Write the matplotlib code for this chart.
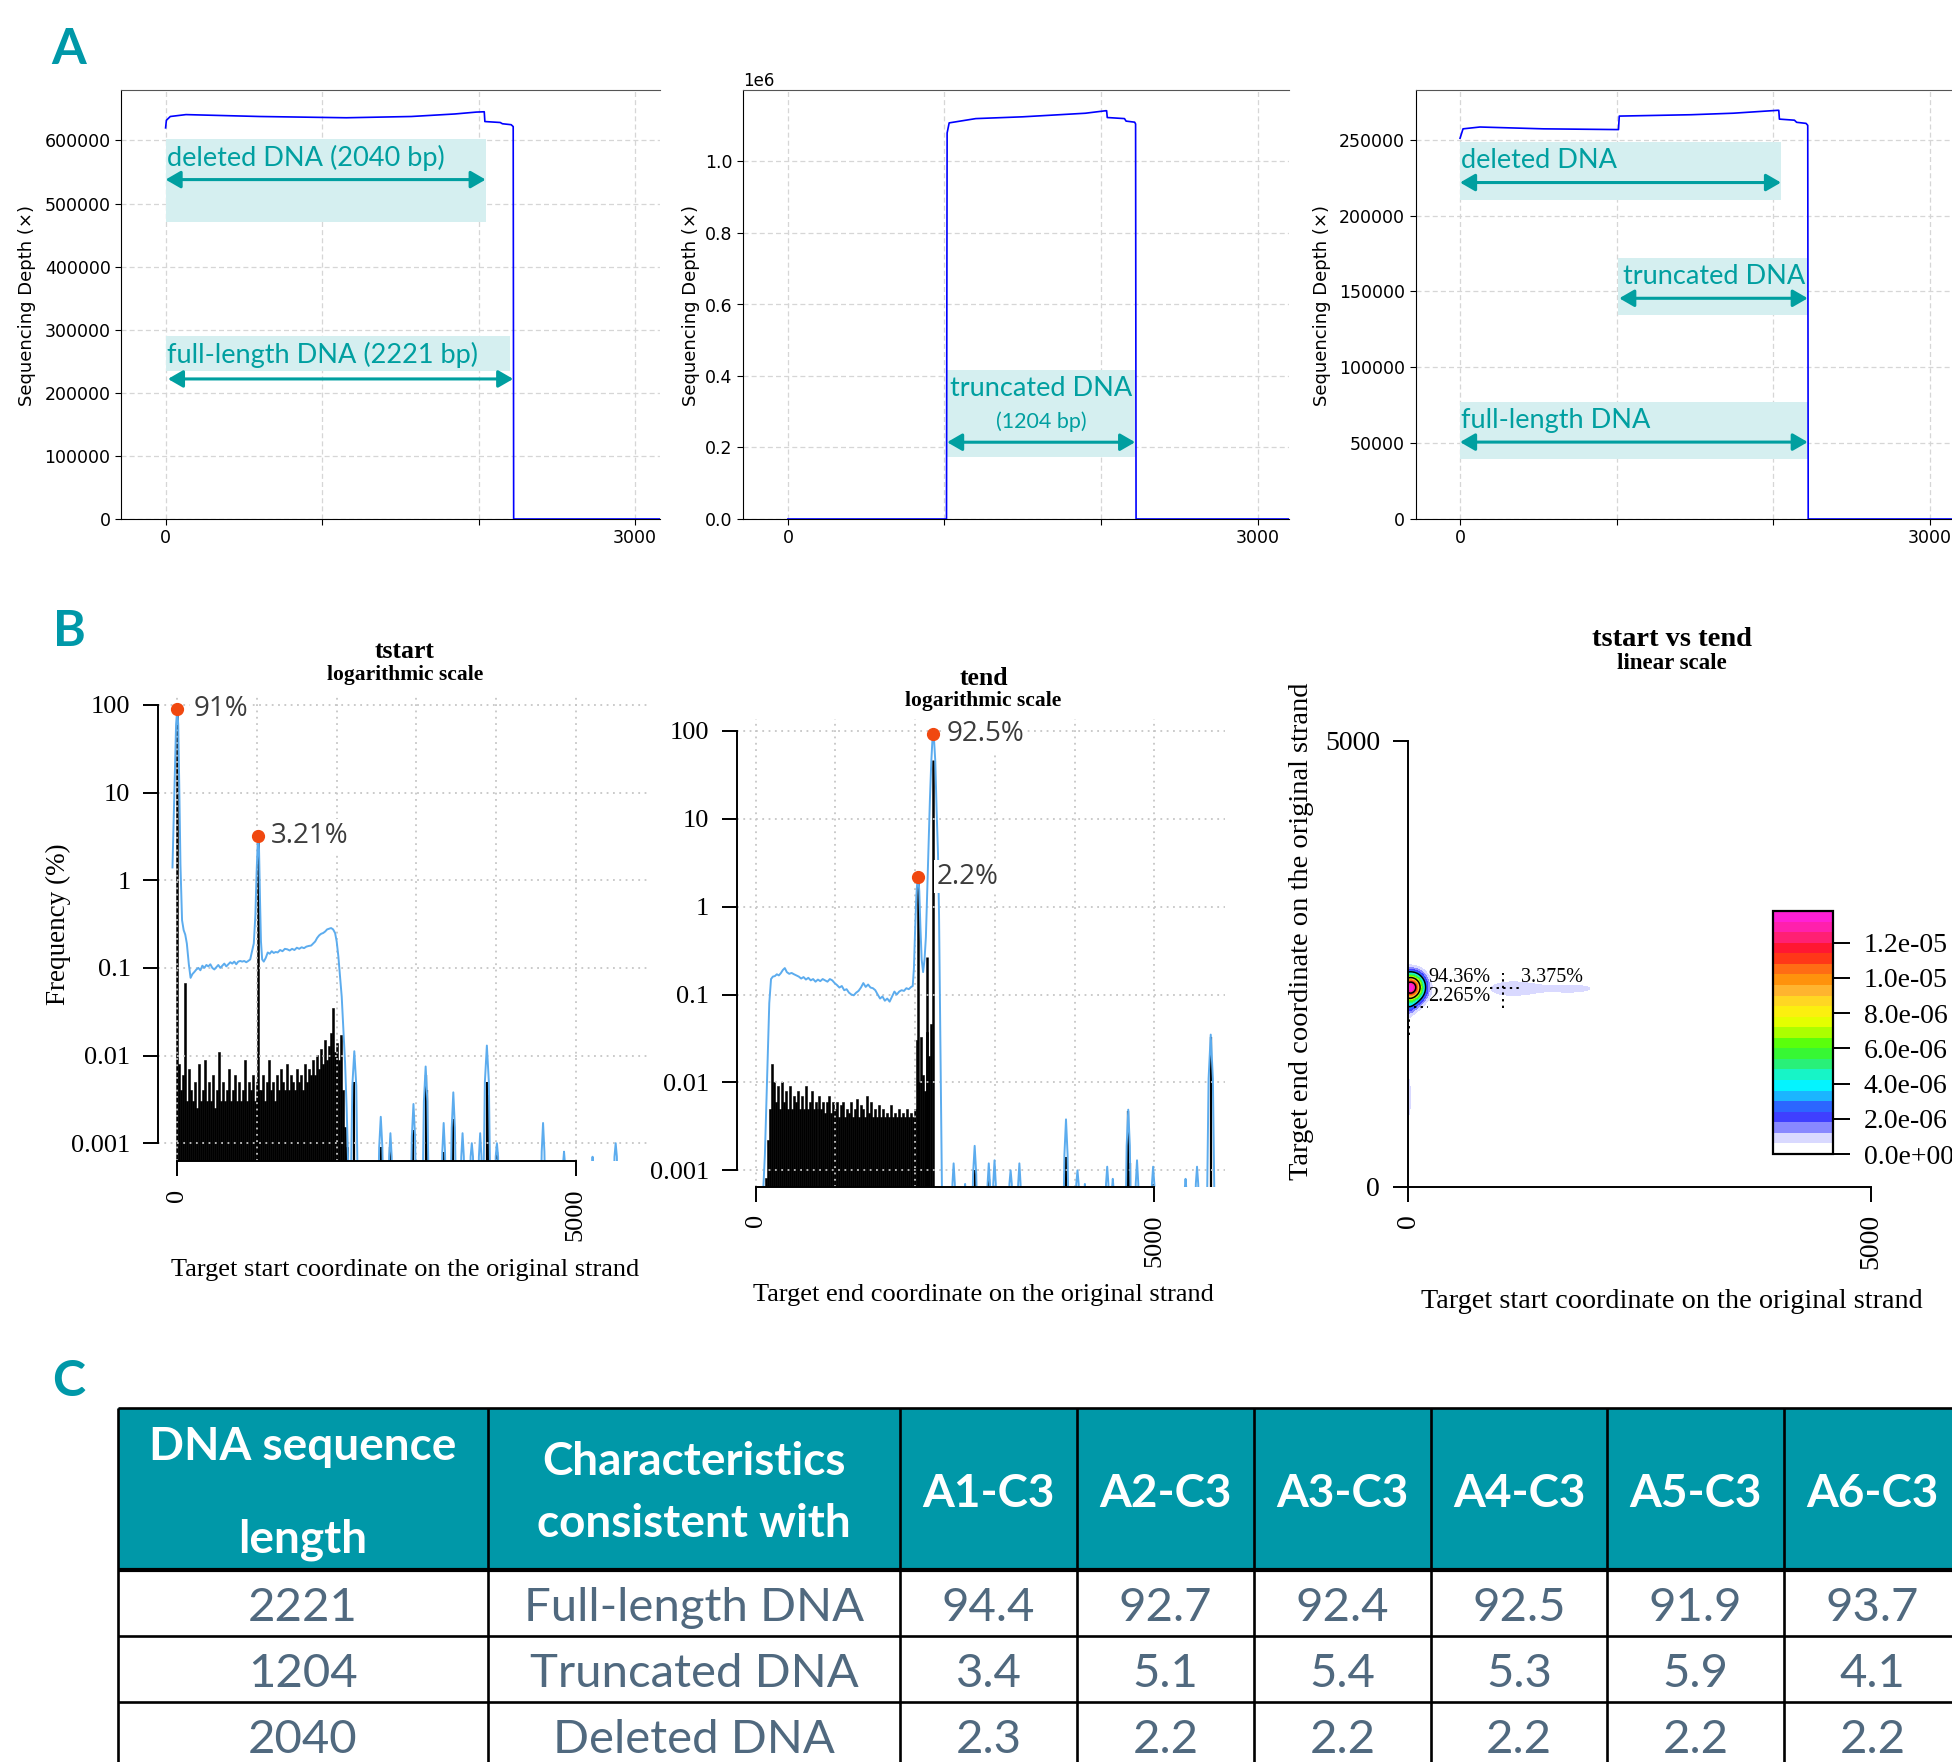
import numpy as np
import matplotlib
matplotlib.use("Agg")
import matplotlib.pyplot as plt
from matplotlib.patches import Rectangle
from matplotlib.colors import LinearSegmentedColormap
from matplotlib.ticker import NullLocator

# ============================ DATA ============================
FULL_LEN = 2221
TRUNC_START = 1017
DEL_END = 2040

# ---- Panel A : sequencing depth along the target ----
A1_POS = [0, 5, 30, 130, 600, 1155, 1570, 1848, 1986, 2036, 2040, 2138, 2152, 2208, 2221, 2224, 3300]
A1_DEPTH = [620000, 632000, 638000, 641000, 638000, 636000, 638000, 642000, 645000, 645500,
            630000, 628500, 626500, 625000, 622000, 0, 0]
A2_POS = [0, 1013, 1017, 1030, 1200, 1500, 1900, 2030, 2036, 2040, 2150, 2160, 2215, 2221, 2224, 3300]
A2_DEPTH = [0, 0, 1.08e6, 1.108e6, 1.12e6, 1.125e6, 1.135e6, 1.142e6, 1.142e6, 1.123e6,
            1.12e6, 1.113e6, 1.11e6, 1.105e6, 0, 0]
A3_POS = [0, 19, 127, 531, 1012, 1017, 1476, 1745, 2029, 2036, 2040, 2136, 2150, 2210, 2221, 2224, 3300]
A3_DEPTH = [251000, 257200, 258400, 257200, 256700, 265600, 266500, 267500, 269400, 269400,
            263600, 262900, 261500, 260800, 259500, 0, 0]

# ---- Panel B1 : tstart frequency (%) ----
TSTART_BAR_MILLI = [8, 4, 6, 68, 3, 7, 4, 3, 5, 2.5,
                    8, 3, 4, 9, 3, 5, 3, 6, 2.5, 4,
                    11, 3, 5, 3, 4, 7, 3, 4, 6, 3,
                    5, 3, 4, 9, 3, 5, 4, 6, 3, 5,
                    4, 4, 6, 3, 5, 9, 4, 5, 3, 6,
                    4, 7, 5, 4, 8, 4, 6, 5, 4, 7,
                    5, 6, 4, 8, 5, 7, 6, 9, 6, 10,
                    7, 12, 8, 15, 9, 13, 18, 35, 11, 14,
                    9, 17, 4, 1.5, 0.9]
TSTART_PEAK_X = [0, 1017]
TSTART_PEAK_Y = [91, 3.0]
TSTART_SPARSE_X = [2221, 2553, 2674, 2963, 3116, 3130, 3342, 3463, 3884, 3895, 4010]
TSTART_SPARSE_Y = [0.005, 0.0009, 0.0009, 0.0014, 0.006, 0.004, 0.0008, 0.0019, 0.005, 0.0035, 0.0008]
TSTART_CURVE_X = [-60, -45, -30, -15, 0, 12, 25, 40, 60, 80, 100, 120, 145, 167, 190, 215, 240, 265,
                  290, 315, 340, 365, 390, 415, 440, 465, 490, 515, 540, 565, 590, 615, 640, 665, 690,
                  715, 740, 765, 790, 815, 840, 865, 890, 915, 935, 960, 980, 995, 1008, 1017, 1026,
                  1038, 1050, 1065, 1085, 1110, 1135, 1160, 1185, 1210, 1235, 1260, 1290, 1320, 1350,
                  1380, 1410, 1440, 1470, 1500, 1530, 1560, 1590, 1620, 1650, 1680, 1705, 1730, 1755,
                  1780, 1805, 1830, 1855, 1880, 1905, 1930, 1955, 1980, 2000, 2021, 2042, 2063, 2084,
                  2105, 2125, 2146]
TSTART_CURVE_Y = [1.4, 5, 20, 60, 91, 60, 12, 1.5, 0.35, 0.27, 0.24, 0.19, 0.11, 0.077, 0.085, 0.09,
                  0.096, 0.1, 0.094, 0.106, 0.1, 0.108, 0.104, 0.11, 0.1, 0.096, 0.102, 0.108, 0.1,
                  0.106, 0.112, 0.104, 0.11, 0.116, 0.112, 0.118, 0.11, 0.118, 0.12, 0.118, 0.12, 0.116,
                  0.12, 0.125, 0.15, 0.19, 0.4, 1.2, 2.5, 3.21, 2.2, 0.6, 0.2, 0.125, 0.118, 0.13, 0.15,
                  0.145, 0.155, 0.148, 0.152, 0.15, 0.16, 0.155, 0.165, 0.163, 0.158, 0.165, 0.16, 0.17,
                  0.165, 0.172, 0.168, 0.175, 0.178, 0.18, 0.19, 0.2, 0.22, 0.235, 0.245, 0.25, 0.26,
                  0.275, 0.28, 0.285, 0.275, 0.25, 0.2, 0.135, 0.08, 0.047, 0.02, 0.0083, 0.0025, 0.0005]
TSTART_BUMP_X = [2171, 2196, 2221, 2246, 2271, 2513, 2533, 2553, 2573, 2593,
                 2642, 2658, 2674, 2690, 2706, 2923, 2943, 2963, 2983, 3003,
                 3071, 3094, 3116, 3138, 3161, 3307, 3325, 3342, 3359, 3377,
                 3423, 3443, 3463, 3483, 3503, 3547, 3563, 3579, 3595, 3611,
                 3665, 3680, 3695, 3710, 3725, 3768, 3784, 3800, 3816, 3832,
                 3834, 3859, 3884, 3909, 3934, 3980, 3995, 4010, 4025, 4040,
                 4554, 4572, 4589, 4606, 4624, 4830, 4841, 4852, 4863, 4874,
                 5190, 5200, 5210, 5220, 5230, 5470, 5485, 5500, 5515, 5530]
TSTART_BUMP_Y = [1e-4, 0.0045, 0.0112, 0.0045, 1e-4, 1e-4, 0.0009, 0.002, 0.0009, 1e-4,
                 1e-4, 0.0007, 0.0013, 0.0007, 1e-4, 1e-4, 0.0012, 0.0028, 0.0012, 1e-4,
                 1e-4, 0.003, 0.0075, 0.003, 1e-4, 1e-4, 0.0008, 0.0017, 0.0008, 1e-4,
                 1e-4, 0.0015, 0.0038, 0.0015, 1e-4, 1e-4, 0.0007, 0.0013, 0.0007, 1e-4,
                 1e-4, 0.0007, 0.001, 0.0007, 1e-4, 1e-4, 0.0007, 0.0013, 0.0007, 1e-4,
                 1e-4, 0.005, 0.013, 0.005, 1e-4, 1e-4, 0.0007, 0.001, 0.0007, 1e-4,
                 1e-4, 0.0008, 0.0017, 0.0008, 1e-4, 1e-4, 0.0006, 0.0008, 0.0006, 1e-4,
                 1e-4, 0.0005, 0.0007, 0.0005, 1e-4, 1e-4, 0.0007, 0.001, 0.0007, 1e-4]
TSTART_MARK_X = [0, 1017]
TSTART_MARK_Y = [91, 3.21]
TSTART_MARK_TEXT = ['91%', '3.21%']

# ---- Panel B2 : tend frequency (%) ----
TEND_BAR_MILLI = [0.8, 2.2, 5, 16, 10, 6, 9, 5, 10, 6,
                  8, 5, 9, 5, 7, 6, 8, 5, 7, 5,
                  9, 5, 6, 8, 5, 6, 5, 7, 5, 6,
                  4.5, 6, 7, 4.5, 6, 5, 6, 4, 5.5, 6,
                  4, 5, 4.5, 6, 4, 5, 6.5, 4, 5.5, 5,
                  4, 7, 4.5, 6, 4, 5, 4, 5.5, 4, 5,
                  4, 4.5, 4, 5.5, 4, 4.5, 4, 5, 4, 4.5,
                  4, 5, 4, 4.5, 4, 5, 30, 10, 33, 12,
                  8, 37, 20, 46]
TEND_PEAK_X = [2040, 2143, 2221]
TEND_PEAK_Y = [2.2, 0.27, 47]
TEND_SPARSE_X = [2747, 2924, 3880, 3893, 4674, 4700, 4986, 5709]
TEND_SPARSE_Y = [0.001, 0.0008, 0.0009, 0.0014, 0.0047, 0.0012, 0.0007, 0.033]
TEND_CURVE_X = [90, 115, 144, 170, 192, 215, 240, 265, 290, 315, 340, 365, 390, 420, 450, 480, 510,
                540, 570, 600, 630, 660, 690, 720, 750, 780, 810, 840, 870, 900, 930, 960, 990, 1020,
                1050, 1080, 1110, 1140, 1170, 1200, 1230, 1260, 1290, 1320, 1350, 1380, 1410, 1440,
                1470, 1500, 1530, 1560, 1590, 1620, 1650, 1680, 1710, 1740, 1770, 1800, 1830, 1860,
                1890, 1920, 1950, 1970, 1985, 2000, 2015, 2028, 2040, 2052, 2066, 2082, 2100, 2118,
                2135, 2152, 2168, 2185, 2203, 2221, 2237, 2253, 2270, 2287, 2300, 2315, 2330, 2342]
TEND_CURVE_Y = [0.0005, 0.0015, 0.012, 0.08, 0.15, 0.16, 0.162, 0.17, 0.165, 0.175, 0.19, 0.2, 0.18,
                0.172, 0.176, 0.17, 0.165, 0.16, 0.152, 0.158, 0.148, 0.155, 0.145, 0.15, 0.14, 0.148,
                0.142, 0.15, 0.145, 0.14, 0.15, 0.145, 0.135, 0.128, 0.12, 0.125, 0.112, 0.115, 0.105,
                0.1, 0.098, 0.105, 0.11, 0.12, 0.135, 0.122, 0.13, 0.12, 0.118, 0.112, 0.1, 0.09, 0.095,
                0.085, 0.09, 0.083, 0.095, 0.108, 0.1, 0.108, 0.112, 0.11, 0.118, 0.115, 0.122, 0.125,
                0.2, 0.55, 1.3, 2.0, 2.2, 1.5, 0.6, 0.25, 0.18, 0.25, 0.45, 1.5, 5, 16, 45, 92.5, 80,
                45, 12, 4, 0.8, 0.04, 0.002, 0.0002]
TEND_BUMP_X = [2453, 2468, 2483, 2498, 2513, 2607, 2617, 2627, 2637, 2647,
               2707, 2727, 2747, 2767, 2787, 2894, 2909, 2924, 2939, 2954,
               2964, 2980, 2996, 3012, 3028, 3168, 3183, 3198, 3213, 3228,
               3278, 3293, 3308, 3323, 3338, 3853, 3873, 3893, 3913, 3933,
               4007, 4022, 4037, 4052, 4067, 4110, 4120, 4130, 4140, 4150,
               4380, 4395, 4410, 4425, 4440, 4458, 4469, 4480, 4491, 4502,
               4634, 4654, 4674, 4694, 4714, 4752, 4768, 4784, 4800, 4816,
               4956, 4971, 4986, 5001, 5016, 5371, 5382, 5393, 5404, 5415,
               5507, 5522, 5537, 5552, 5567, 5654, 5682, 5709, 5736, 5764]
TEND_BUMP_Y = [1e-4, 0.0007, 0.0012, 0.0007, 1e-4, 1e-4, 0.0005, 0.0007, 0.0005, 1e-4,
               1e-4, 0.0009, 0.0019, 0.0009, 1e-4, 1e-4, 0.0007, 0.0012, 0.0007, 1e-4,
               1e-4, 0.0007, 0.0013, 0.0007, 1e-4, 1e-4, 0.0007, 0.001, 0.0007, 1e-4,
               1e-4, 0.0007, 0.0012, 0.0007, 1e-4, 1e-4, 0.0015, 0.0038, 0.0015, 1e-4,
               1e-4, 0.0007, 0.001, 0.0007, 1e-4, 1e-4, 0.0005, 0.0007, 0.0005, 1e-4,
               1e-4, 0.0007, 0.0011, 0.0007, 1e-4, 1e-4, 0.0006, 0.0008, 0.0006, 1e-4,
               1e-4, 0.0019, 0.0049, 0.0019, 1e-4, 1e-4, 0.0007, 0.0013, 0.0007, 1e-4,
               1e-4, 0.0007, 0.0011, 0.0007, 1e-4, 1e-4, 0.0006, 0.0008, 0.0006, 1e-4,
               1e-4, 0.0007, 0.0011, 0.0007, 1e-4, 1e-4, 0.011, 0.035, 0.011, 1e-4]
TEND_MARK_X = [2221, 2040]
TEND_MARK_Y = [92.5, 2.2]
TEND_MARK_TEXT = ['92.5%', '2.2%']

# ---- Panel B3 : tstart vs tend density hot spots ----
PAIR_X = [30, 15, 1100, 1750, 15]
PAIR_Y = [2235, 2040, 2221, 2221, 1000]
PAIR_DENSITY = [1.36e-5, 1.6e-6, 9e-7, 7e-7, 6.5e-7]
PAIR_SPREAD_X = [92, 60, 200, 380, 22]
PAIR_SPREAD_Y = [100, 80, 70, 70, 600]
PAIR_TEXT = ['94.36%', '2.265%', '3.375%']
CBAR_TICKS = [0, 2e-6, 4e-6, 6e-6, 8e-6, 1.0e-5, 1.2e-5]
CBAR_TEXT = ['0.0e+00', '2.0e-06', '4.0e-06', '6.0e-06', '8.0e-06', '1.0e-05', '1.2e-05']

# ---- Panel C : table ----
SAMPLES = ['A1-C3', 'A2-C3', 'A3-C3', 'A4-C3', 'A5-C3', 'A6-C3']
LENGTHS = ['2221', '1204', '2040']
CHARACTERISTICS = ['Full-length DNA', 'Truncated DNA', 'Deleted DNA']
FULL_PCT = [94.4, 92.7, 92.4, 92.5, 91.9, 93.7]
TRUNC_PCT = [3.4, 5.1, 5.4, 5.3, 5.9, 4.1]
DEL_PCT = [2.3, 2.2, 2.2, 2.2, 2.2, 2.2]

# ============================ STYLE ============================
W, H = 1952, 1762
TEAL = '#0098a8'
ANN = '#009fa0'
BOX = '#d5eff0'
SERIF = 'Liberation Serif'
CAL = 'Lato'
CURVE = '#5cacee'
DOT = '#f04810'
GRIDB = '#c6c6c6'

fig = plt.figure(figsize=(W / 100, H / 100), dpi=100)
fig.patch.set_facecolor('white')


def px_axes(l, t, r, b, **kw):
    return fig.add_axes([l / W, 1 - b / H, (r - l) / W, (b - t) / H], **kw)


# ============================ PANEL A ============================
def depth_panel(box, xlim, ylim, pos, depth, yticks):
    ax = px_axes(*box)
    ax.plot(pos, depth, color='#0000ff', lw=1.2, zorder=3)
    ax.set_xlim(*xlim)
    ax.set_ylim(*ylim)
    ax.set_xticks([0, 1000, 2000, 3000])
    ax.set_xticklabels(['0', '', '', '3000'])
    ax.set_yticks(yticks)
    ax.tick_params(labelsize=12.5, length=4)
    ax.grid(True, ls=(0, (4, 2.5)), color='#d6d6d6', lw=0.9)
    ax.set_axisbelow(True)
    ax.spines['right'].set_visible(False)
    ax.spines['top'].set_color('#555555')
    ax.yaxis.get_offset_text().set_fontsize(12)
    return ax


def note_box(ax, x0, x1, y0, y1):
    ax.add_patch(Rectangle((x0, y0), x1 - x0, y1 - y0, facecolor=BOX, edgecolor='none', zorder=1.5))


def note_arrow(ax, x0, x1, y):
    ax.annotate('', xy=(x1, y), xytext=(x0, y),
                arrowprops=dict(arrowstyle='<|-|>,head_length=0.45,head_width=0.26', color=ANN,
                                lw=2.2, shrinkA=0, shrinkB=0, mutation_scale=20), zorder=2.5)


def note_text(ax, x, y, s, size=19.5, ha='left'):
    ax.text(x, y, s, color=ANN, fontsize=size, family=CAL, ha=ha, va='center', zorder=2.6)


a1 = depth_panel((121, 90, 660, 519), (-285, 3159), (0, 680000), A1_POS, A1_DEPTH,
                 np.arange(0, 600001, 100000))
note_box(a1, 0, 2050, 470400, 602400)
note_text(a1, 8, 572600, 'deleted DNA (%d bp)' % DEL_END)
note_arrow(a1, 0, 2045, 538000)
note_box(a1, 0, 2202, 234000, 289700)
note_text(a1, 8, 259300, 'full-length DNA (%d bp)' % FULL_LEN)
note_arrow(a1, 15, FULL_LEN, 222000)

a2 = depth_panel((743, 90, 1289, 519), (-287, 3201), (0, 1.2e6), A2_POS, A2_DEPTH,
                 np.arange(0, 1.0e6 + 1, 2e5))
note_box(a2, 1015, 2218, 174000, 417000)
note_text(a2, 1617, 364700, 'truncated DNA', ha='center')
note_text(a2, 1617, 273500, '(%d bp)' % (FULL_LEN - TRUNC_START), size=15.5, ha='center')
note_arrow(a2, TRUNC_START, 2218, 214800)

a3 = depth_panel((1415.6, 90, 1961, 519), (-284, 3200), (0, 282800), A3_POS, A3_DEPTH,
                 np.arange(0, 250001, 50000))
note_box(a3, 0, 2050, 210500, 248800)
note_text(a3, 8, 236100, 'deleted DNA')
note_arrow(a3, 0, 2050, 221800)
note_box(a3, 1012, FULL_LEN, 134400, 172200)
note_text(a3, 1044, 159800, 'truncated DNA')
note_arrow(a3, TRUNC_START, FULL_LEN, 145500)
note_box(a3, 0, FULL_LEN, 39500, 77300)
note_text(a3, 8, 65100, 'full-length DNA')
note_arrow(a3, 0, FULL_LEN, 50700)


# ============================ PANEL B ============================
def freq_panel(box, xlim, ylim, bin_start, bars_milli, peak_x, peak_y, sparse_x, sparse_y,
               cx, cy, bx, by, mx, my, mtext, offsets_px):
    ax = px_axes(*box)
    ax.set_yscale('log')
    ax.set_xlim(*xlim)
    ax.set_ylim(*ylim)
    bins = bin_start + 25 * np.arange(len(bars_milli))
    ax.bar(bins, np.asarray(bars_milli) * 1e-3, width=25, bottom=1e-5, color='black',
           edgecolor='black', linewidth=0.4, zorder=1)
    ax.vlines(peak_x, 1e-5, peak_y, color='black', lw=1.8, zorder=1)
    ax.vlines(sparse_x, 1e-5, sparse_y, color='black', lw=1.6, zorder=1)
    for k in range(-3, 3):
        ax.axhline(10.0 ** k, color=GRIDB, ls=(0, (1, 2.5)), lw=1.3, zorder=1.5)
    for xv in range(0, 5001, 1000):
        ax.axvline(xv, color=GRIDB, ls=(0, (1, 2.5)), lw=1.3, zorder=1.5)
    ax.plot(list(cx) + list(bx), list(cy) + list(by), color=CURVE, lw=1.4, zorder=2)
    ax.plot(mx, my, 'o', color=DOT, ms=8.5, zorder=7, clip_on=False)
    for x, y, s, off in zip(mx, my, mtext, offsets_px):
        ax.annotate(s, (x, y), xytext=(off * 0.72, 0), textcoords='offset points', ha='left',
                    va='center', fontsize=20, family='Open Sans', color='#3c3c3c', zorder=6,
                    bbox=dict(boxstyle='square,pad=0.1', fc='white', ec='none'))
    for side in ('top', 'right'):
        ax.spines[side].set_visible(False)
    ax.spines['left'].set_bounds(1e-3, 100)
    ax.spines['bottom'].set_bounds(0, 5000)
    for side in ('left', 'bottom'):
        ax.spines[side].set_linewidth(1.4)
    ax.yaxis.set_minor_locator(NullLocator())
    ax.set_yticks([1e-3, 1e-2, 1e-1, 1, 10, 100])
    ax.set_yticklabels(['0.001', '0.01', '0.1', '1', '10', '100'], fontfamily=SERIF, fontsize=19)
    ax.set_xticks([0, 5000])
    ax.set_xticklabels(['0', '5000'], rotation=90, fontfamily=SERIF, fontsize=19)
    ax.tick_params(direction='out', length=11, width=1.4, pad=9)
    ax.patch.set_visible(False)
    return ax


b1 = freq_panel((158.3, 693.6, 647, 1160.7), (-238, 5893), (10 ** -3.2, 10 ** 2.13), 25,
                TSTART_BAR_MILLI, TSTART_PEAK_X, TSTART_PEAK_Y, TSTART_SPARSE_X, TSTART_SPARSE_Y,
                TSTART_CURVE_X, TSTART_CURVE_Y, TSTART_BUMP_X, TSTART_BUMP_Y,
                TSTART_MARK_X, TSTART_MARK_Y, TSTART_MARK_TEXT, [16, 12])

b2 = freq_panel((737, 719.4, 1225.4, 1186.5), (-235, 5893), (10 ** -3.184, 10 ** 2.13), 125,
                TEND_BAR_MILLI, TEND_PEAK_X, TEND_PEAK_Y, TEND_SPARSE_X, TEND_SPARSE_Y,
                TEND_CURVE_X, TEND_CURVE_Y, TEND_BUMP_X, TEND_BUMP_Y,
                TEND_MARK_X, TEND_MARK_Y, TEND_MARK_TEXT, [13.5, 18])

# ---- B3 density map ----
b3 = px_axes(1408, 680, 1935.8, 1186.5)
b3.set_xlim(0, 5700)
b3.set_ylim(0, (1186.5 - 680) / 89.1 * 1000)
gx = np.linspace(0, 5700, 571)
gy = np.linspace(0, 5700, 571)
GX, GY = np.meshgrid(gx, gy)
Z = np.zeros_like(GX)
for px_, py_, amp, sx, sy in zip(PAIR_X, PAIR_Y, PAIR_DENSITY, PAIR_SPREAD_X, PAIR_SPREAD_Y):
    Z += amp * np.exp(-((GX - px_) ** 2 / (2 * sx ** 2) + (GY - py_) ** 2 / (2 * sy ** 2)))
Z = np.minimum(Z, 1.379e-5)

anchors = [(0.0, '#ffffff'), (0.03, '#ffffff'), (0.06, '#dedeff'), (0.09, '#a8a8ff'),
           (0.13, '#5858ff'), (0.16, '#3030ff'), (0.20, '#2c6cff'), (0.245, '#18c0ff'),
           (0.29, '#00ffff'), (0.34, '#20f0b0'), (0.39, '#30f050'), (0.44, '#40ff10'),
           (0.50, '#a8ff00'), (0.56, '#f8ff00'), (0.62, '#ffe020'), (0.68, '#ffb030'),
           (0.73, '#ff8800'), (0.78, '#ff5a20'), (0.83, '#ff1010'), (0.88, '#ff2060'),
           (0.94, '#ff20b0'), (1.0, '#ff20e8')]
cmap = LinearSegmentedColormap.from_list('dens', anchors)
levels = np.linspace(0, 1.38e-5, 24)
cs = b3.contourf(GX, GY, Z, levels=levels, cmap=cmap, zorder=0)
b3.contour(GX, GY, Z, levels=[3.0e-6, 7.5e-6, 1.15e-5], colors='black', linewidths=1.1, zorder=1)

dot_kw = dict(color='black', ls=(0, (1.2, 2.2)), lw=1.4, zorder=3)
b3.plot([TRUNC_START - 130, TRUNC_START + 210], [FULL_LEN + 3, FULL_LEN + 3], **dot_kw)
b3.plot([TRUNC_START + 10, TRUNC_START + 10], [DEL_END - 40, FULL_LEN + 170], **dot_kw)
b3.plot([60, 215], [DEL_END - 25, DEL_END - 25], **dot_kw)
b3.plot([8, 8], [1700, 1900], **dot_kw)
b3.text(215, 2345, PAIR_TEXT[0], family=SERIF, fontsize=14.5, ha='left', va='center', zorder=4)
b3.text(215, 2128, PAIR_TEXT[1], family=SERIF, fontsize=14.5, ha='left', va='center', zorder=4)
b3.text(1217, 2345, PAIR_TEXT[2], family=SERIF, fontsize=14.5, ha='left', va='center', zorder=4)

for side in ('top', 'right'):
    b3.spines[side].set_visible(False)
b3.spines['left'].set_bounds(0, 5000)
b3.spines['bottom'].set_bounds(0, 5000)
for side in ('left', 'bottom'):
    b3.spines[side].set_linewidth(1.4)
b3.set_yticks([0, 5000])
b3.set_yticklabels(['0', '5000'], fontfamily=SERIF, fontsize=20)
b3.set_xticks([0, 5000])
b3.set_xticklabels(['0', '5000'], rotation=90, fontfamily=SERIF, fontsize=20)
b3.tick_params(direction='out', length=11, width=1.4, pad=9)
b3.patch.set_visible(False)

cax = px_axes(1773, 911, 1833, 1154)
cb = fig.colorbar(cs, cax=cax, ticks=CBAR_TICKS)
cb.set_ticklabels(CBAR_TEXT)
cb.outline.set_linewidth(1.6)
cax.tick_params(direction='out', length=12, width=1.4, pad=10)
for lab in cax.get_yticklabels():
    lab.set_fontfamily(SERIF)
    lab.set_fontsize(20)
cax.set_ylim(0, 1.38e-5)

# ============================ OVERLAY (labels, table) ============================
ov = fig.add_axes([0, 0, 1, 1], zorder=10)
ov.set_xlim(0, W)
ov.set_ylim(H, 0)
ov.axis('off')

for s, (x, y) in zip('ABC', [(69, 50), (69, 632), (69, 1381)]):
    ov.text(x, y, s, color=TEAL, fontsize=36, fontweight='bold', family=CAL, ha='center', va='center')

ylab = 'Sequencing Depth (\u00d7)'
for x in (27, 691, 1322):
    ov.text(x, 306, ylab, rotation=90, fontsize=13, ha='center', va='center', family='DejaVu Sans')

ov.text(405, 652, 'tstart', family=SERIF, fontweight='bold', fontsize=18.5, ha='center', va='center')
ov.text(405, 675, 'logarithmic scale', family=SERIF, fontweight='bold', fontsize=15.5, ha='center', va='center')
ov.text(405, 1270, 'Target start coordinate on the original strand', family=SERIF, fontsize=19,
        ha='center', va='center')
ov.text(58.5, 924, 'Frequency (%)', family=SERIF, fontsize=19.5, rotation=90, ha='center', va='center')

ov.text(983.5, 678.5, 'tend', family=SERIF, fontweight='bold', fontsize=18.5, ha='center', va='center')
ov.text(983.5, 701, 'logarithmic scale', family=SERIF, fontweight='bold', fontsize=15.5, ha='center', va='center')
ov.text(983.5, 1295, 'Target end coordinate on the original strand', family=SERIF, fontsize=19,
        ha='center', va='center')

ov.text(1672, 639, 'tstart vs tend', family=SERIF, fontweight='bold', fontsize=20.5, ha='center', va='center')
ov.text(1672, 663.6, 'linear scale', family=SERIF, fontweight='bold', fontsize=16.5, ha='center', va='center')
ov.text(1672, 1302, 'Target start coordinate on the original strand', family=SERIF, fontsize=20.3,
        ha='center', va='center')
ov.text(1301, 931, 'Target end coordinate on the original strand', family=SERIF, fontsize=20.5,
        rotation=90, ha='center', va='center')

# ---- table ----
COL_EDGES = [118, 488, 900, 1077, 1254, 1431, 1607, 1784, 1961]
ROW_EDGES = [1408, 1570, 1636, 1702, 1768]
ov.add_patch(Rectangle((COL_EDGES[0], ROW_EDGES[0]), COL_EDGES[-1] - COL_EDGES[0],
                       ROW_EDGES[1] - ROW_EDGES[0], facecolor=TEAL, edgecolor='none'))
for i, yv in enumerate(ROW_EDGES):
    ov.plot([COL_EDGES[0], COL_EDGES[-1]], [yv, yv], color='black', lw=3.0 if i == 1 else 1.9,
            solid_capstyle='butt')
for xv in COL_EDGES:
    ov.plot([xv, xv], [ROW_EDGES[0], ROW_EDGES[-1]], color='black', lw=1.9, solid_capstyle='butt')

hdr = dict(color='white', fontsize=33, fontweight='bold', family=CAL, ha='center', va='center')
c0 = (COL_EDGES[0] + COL_EDGES[1]) / 2
c1 = (COL_EDGES[1] + COL_EDGES[2]) / 2
ov.text(c0, 1447, 'DNA sequence', **hdr)
ov.text(c0, 1540, 'length', **hdr)
ov.text(c1, 1462, 'Characteristics', **hdr)
ov.text(c1, 1524, 'consistent with', **hdr)
for j, s in enumerate(SAMPLES):
    ov.text((COL_EDGES[j + 2] + COL_EDGES[j + 3]) / 2, 1494, s, **hdr)

body = dict(color='#50697f', fontsize=34, family=CAL, ha='center', va='center')
rows = [FULL_PCT, TRUNC_PCT, DEL_PCT]
for i in range(3):
    yc = (ROW_EDGES[i + 1] + ROW_EDGES[i + 2]) / 2 + 5
    ov.text(c0, yc, LENGTHS[i], **body)
    ov.text(c1, yc, CHARACTERISTICS[i], **body)
    for j, v in enumerate(rows[i]):
        ov.text((COL_EDGES[j + 2] + COL_EDGES[j + 3]) / 2, yc, '%.1f' % v, **body)

fig.savefig('out.png', dpi=100)
